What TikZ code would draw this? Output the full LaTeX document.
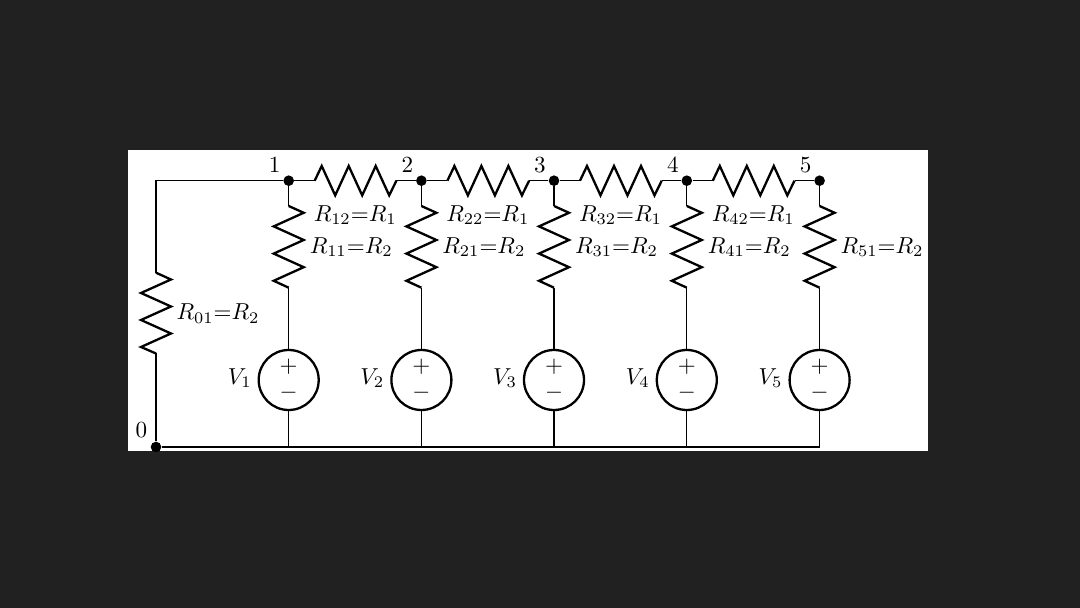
\documentclass[tikz,border=0pt]{standalone}
\usetikzlibrary{calc}
\definecolor{bgdark}{HTML}{212121}
\tikzset{
  wire/.style={line width=0.5pt,black},
  res/.style={line width=1pt,black,line join=miter},
  dot/.style={circle,fill=black,inner sep=0pt,minimum size=4.6pt},
  src/.style={circle,draw=black,line width=1pt,fill=white,minimum size=26pt,inner sep=0pt},
  lab/.style={inner sep=0pt,anchor=center}
}
\begin{document}
\begin{tikzpicture}[x=0.4333pt,y=-0.4333pt]
\fill[bgdark] (0,0) rectangle (1080,608);
\useasboundingbox (0,0) rectangle (1080,608);
\fill[white] (128,150) rectangle (928,451);
% ground and left branch
\node[dot] (n0) at (156,447) {};
\coordinate (r0t) at (156,272.7);
\coordinate (r0b) at (156,353.5);
\coordinate (corner) at (156,180.7);
% junctions
\node[dot] (n1) at (288.7,180.7) {};
\node[dot] (n2) at (421.4,180.7) {};
\node[dot] (n3) at (554,180.7) {};
\node[dot] (n4) at (686.8,180.7) {};
\node[dot] (n5) at (819.6,180.7) {};
% left branch
\draw[wire] (n1) -- (corner) -- (r0t);
\draw[wire] (r0b) -- (n0);
\draw[res] (r0t) -- ++(15,6.8) -- ++(-30,13.5) -- ++(30,13.5) -- ++(-30,13.5) -- ++(30,13.5) -- ++(-30,13.5) -- (r0b);
\node[lab] (l0) at (218,313.5) {$R_{01}{=}R_2$};
\node[lab] (l00) at (141.5,430.5) {$0$};
% vertical branches
\foreach \i/\x in {1/288.7,2/421.4,3/554,4/686.8,5/819.6}{
  \coordinate (ta\i) at (\x,206);
  \coordinate (tb\i) at (\x,287.7);
  \coordinate (g\i) at (\x,447);
  \node[src] (v\i) at (\x,380) {};
  \draw[wire] (n\i) -- (ta\i);
  \draw[wire] (tb\i) -- (v\i);
  \draw[wire] (v\i) -- (g\i);
  \draw[res] (ta\i) -- ++(15,6.8) -- ++(-30,13.6) -- ++(30,13.6) -- ++(-30,13.6) -- ++(30,13.6) -- ++(-30,13.6) -- (tb\i);
  \node[lab] (plus\i) at (\x,366.5) {$+$};
  \node[lab] (minus\i) at (\x,393) {$-$};
  \node[lab] (vl\i) at ($(\x,378)+(-49,0)$) {$V_{\i}$};
  \node[lab] (rl\i) at ($(\x,247)+(62.5,0)$) {$R_{\i 1}{=}R_2$};
}
\draw[wire] (n0) -- (g5);
% horizontal resistors
\foreach \i/\j in {1/2,2/3,3/4,4/5}{
  \coordinate (ha\i) at ($(n\i)+(26,0)$);
  \coordinate (hb\i) at ($(n\i)+(107.7,0)$);
  \draw[wire] (n\i) -- (ha\i);
  \draw[wire] (hb\i) -- (n\j);
  \draw[res] (ha\i) -- ++(7,-14.7) -- ++(13.5,29.4) -- ++(13.5,-29.4) -- ++(13.5,29.4) -- ++(13.5,-29.4) -- ++(13.5,29.4) -- (hb\i);
  \node[lab] (hl\i) at ($(n\i)+(66.5,34.5)$) {$R_{\i 2}{=}R_1$};
  \node[lab] (nl\i) at ($(n\i)+(-14,-15.5)$) {$\i$};
}
\node[lab] (nl5) at ($(n5)+(-14,-15.5)$) {$5$};
\end{tikzpicture}
\end{document}
